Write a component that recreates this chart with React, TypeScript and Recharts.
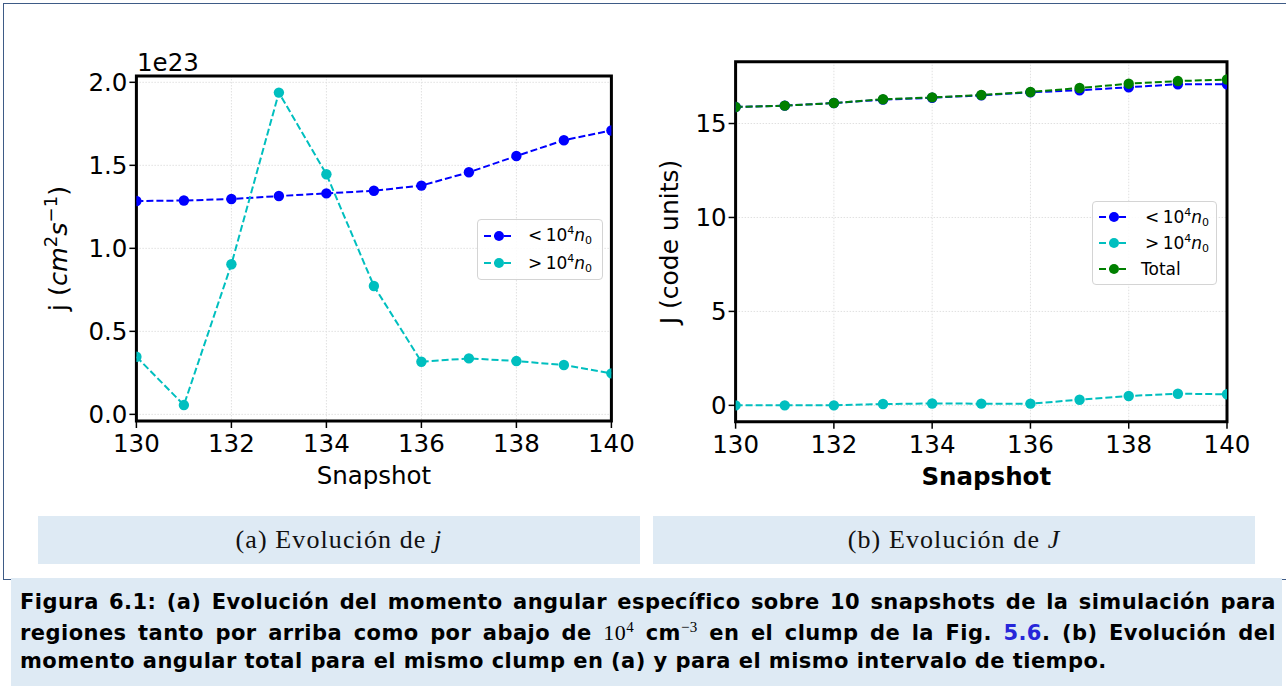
import React from 'react'
import {
  LineChart, Line, XAxis, YAxis, CartesianGrid, ReferenceArea, Legend,
} from 'recharts'

// Snapshot index (x axis, shared by both panels)
const snapshots = [130, 131, 132, 133, 134, 135, 136, 137, 138, 139, 140]
const xTicks = [130, 132, 134, 136, 138, 140]

// (a) specific angular momentum j, in units of 1e23 cm^2 s^-1
const jBelow = [1.285, 1.288, 1.297, 1.315, 1.331, 1.347, 1.378, 1.458, 1.556, 1.651, 1.71]
const jAbove = [0.347, 0.056, 0.904, 1.938, 1.446, 0.773, 0.317, 0.337, 0.321, 0.297, 0.247]
const jTicks = [0, 0.5, 1, 1.5, 2]

// (b) total angular momentum J, code units
const JBelow = [15.88, 15.95, 16.09, 16.27, 16.37, 16.5, 16.66, 16.77, 16.93, 17.09, 17.09]
const JAbove = [0.0, 0.0, 0.0, 0.07, 0.1, 0.09, 0.09, 0.3, 0.5, 0.62, 0.59]
const JTotal = [15.88, 15.95, 16.09, 16.29, 16.39, 16.52, 16.68, 16.89, 17.12, 17.26, 17.34]
const JTicks = [0, 5, 10, 15]

const BLUE = '#0000ff'
const CYAN = '#00bfbf'
const GREEN = '#008000'
const FRAME = '#3e5b86'
const PANEL_BG = '#deeaf4'
const MPL = '"DejaVu Sans", sans-serif'
const SERIF = '"Liberation Serif", serif'

const J_DOMAIN: [number, number] = [-0.04, 2.038]
const BIG_J_DOMAIN: [number, number] = [-0.87, 18.29]

const dataA = snapshots.map((s, i) => ({ snap: s, below: jBelow[i], above: jAbove[i] }))
const dataB = snapshots.map((s, i) => ({ snap: s, below: JBelow[i], above: JAbove[i], total: JTotal[i] }))

const tickStyle = { fill: '#000', fontSize: 24.5, fontFamily: MPL }
const tickLine = { stroke: '#000', strokeWidth: 1.5 }

const DensityLabel = ({ sign }: { sign: string }) => (
  <span>
    {sign}&thinsp;10<sup style={{ fontSize: 11, verticalAlign: 7 }}>4</sup>
    <i>n</i><sub style={{ fontSize: 11, verticalAlign: -3 }}>0</sub>
  </span>
)

const LegendBox = ({ items, rowH, textPad }: { items: { color: string; label: React.ReactNode }[]; rowH: number; textPad: number }) => (
  <div style={{
    border: '1px solid #d4d4d4', borderRadius: 4, background: 'rgba(255,255,255,0.85)',
    padding: '2px 6px', fontFamily: MPL, fontSize: 17, color: '#000', boxSizing: 'border-box',
  }}>
    {items.map((it, i) => (
      <div key={i} style={{ display: 'flex', alignItems: 'center', height: rowH }}>
        <svg width={30} height={12} style={{ flex: 'none' }}>
          <line x1={0} y1={6} x2={30} y2={6} stroke={it.color} strokeWidth={2} strokeDasharray="7 3" />
          <circle cx={15} cy={6} r={5} fill={it.color} />
        </svg>
        <span style={{ marginLeft: textPad, whiteSpace: 'nowrap' }}>{it.label}</span>
      </div>
    ))}
  </div>
)

const dotOf = (c: string) => ({ r: 5.2, fill: c, stroke: 'none', strokeDasharray: '' })

function PanelA() {
  return (
    <LineChart width={650} height={505} data={dataA}
      margin={{ top: 76, left: 76.4, right: 38.6, bottom: 14 }}>
      <CartesianGrid stroke="#e0e0e0" strokeDasharray="1.5 1.5" />
      <XAxis dataKey="snap" type="number" domain={[130, 140]} ticks={xTicks} allowDataOverflow
        height={70} axisLine={false} tick={tickStyle} tickLine={tickLine} tickSize={7} tickMargin={7}
        label={{ value: 'Snapshot', position: 'insideBottom', offset: 7, fill: '#000', fontSize: 24.5, fontFamily: MPL }} />
      <YAxis type="number" domain={J_DOMAIN} ticks={jTicks} allowDataOverflow width={60}
        axisLine={false} tick={tickStyle} tickLine={tickLine} tickSize={7} tickMargin={2}
        tickFormatter={(v: number) => v.toFixed(1)}
        label={() => (
          <g fontFamily={MPL} fill="#000">
            <text x={137} y={71} fontSize={24.5}>1e23</text>
            <text transform="translate(67,248.5) rotate(-90)" textAnchor="middle" fontSize={25.5}>
              <tspan>j (</tspan>
              <tspan fontStyle="italic">cm</tspan>
              <tspan fontSize={18} dy={-10}>2</tspan>
              <tspan fontStyle="italic" dy={10}>s</tspan>
              <tspan fontSize={18} dy={-10}>−1</tspan>
              <tspan dy={10}>)</tspan>
            </text>
          </g>
        )} />
      <ReferenceArea x1={130} x2={140} y1={J_DOMAIN[0]} y2={J_DOMAIN[1]} fill="none"
        stroke="#000" strokeWidth={3} ifOverflow="visible" />
      <Line dataKey="below" stroke={BLUE} strokeWidth={2} strokeDasharray="7 3" dot={dotOf(BLUE)} isAnimationActive={false} />
      <Line dataKey="above" stroke={CYAN} strokeWidth={2} strokeDasharray="7 3" dot={dotOf(CYAN)} isAnimationActive={false} />
      <Legend layout="horizontal" verticalAlign="middle"
        wrapperStyle={{ left: 477, top: 219, width: 126, height: 59 }}
        content={() => (
          <LegendBox rowH={27.5} textPad={14} items={[
            { color: BLUE, label: <DensityLabel sign="<" /> },
            { color: CYAN, label: <DensityLabel sign=">" /> },
          ]} />
        )} />
    </LineChart>
  )
}

function PanelB() {
  return (
    <LineChart width={636} height={505} data={dataB}
      margin={{ top: 61.7, left: 25.6, right: 59, bottom: 13.3 }}>
      <CartesianGrid stroke="#e0e0e0" strokeDasharray="1.5 1.5" />
      <XAxis dataKey="snap" type="number" domain={[130, 140]} ticks={xTicks} allowDataOverflow
        height={70} axisLine={false} tick={tickStyle} tickLine={tickLine} tickSize={7} tickMargin={7}
        label={{ value: 'Snapshot', position: 'insideBottom', offset: 7, fill: '#000', fontSize: 24.5, fontFamily: MPL, fontWeight: 'bold', dx: 5 }} />
      <YAxis type="number" domain={BIG_J_DOMAIN} ticks={JTicks} allowDataOverflow width={60}
        axisLine={false} tick={tickStyle} tickLine={tickLine} tickSize={7} tickMargin={2}
        label={() => (
          <text transform="translate(28,242) rotate(-90)" textAnchor="middle" fontSize={25}
            fontFamily={MPL} fill="#000">J (code units)</text>
        )} />
      <ReferenceArea x1={130} x2={140} y1={BIG_J_DOMAIN[0]} y2={BIG_J_DOMAIN[1]} fill="none"
        stroke="#000" strokeWidth={3} ifOverflow="visible" />
      <Line dataKey="below" stroke={BLUE} strokeWidth={2} strokeDasharray="7 3" dot={dotOf(BLUE)} isAnimationActive={false} />
      <Line dataKey="above" stroke={CYAN} strokeWidth={2} strokeDasharray="7 3" dot={dotOf(CYAN)} isAnimationActive={false} />
      <Line dataKey="total" stroke={GREEN} strokeWidth={2} strokeDasharray="7 3" dot={dotOf(GREEN)} isAnimationActive={false} />
      <Legend layout="horizontal" verticalAlign="middle"
        wrapperStyle={{ left: 442, top: 201, width: 125, height: 82 }}
        content={() => (
          <LegendBox rowH={26} textPad={16} items={[
            { color: BLUE, label: <DensityLabel sign="<" /> },
            { color: CYAN, label: <DensityLabel sign=">" /> },
            { color: GREEN, label: <span style={{ marginLeft: -4 }}>Total</span> },
          ]} />
        )} />
    </LineChart>
  )
}

const subcap: React.CSSProperties = {
  position: 'absolute', top: 516, width: 602, height: 48, background: PANEL_BG,
  display: 'flex', alignItems: 'center', justifyContent: 'center',
  fontFamily: SERIF, fontSize: 26, letterSpacing: 1.1, color: '#111',
}

const capLine: React.CSSProperties = {
  whiteSpace: 'nowrap', height: 29.5, lineHeight: '29.5px', overflow: 'visible',
}

const raised = (size: number, lift: number): React.CSSProperties => ({
  position: 'relative', top: -lift, fontSize: size, lineHeight: 0,
})

export default function App() {
  return (
    <div style={{ position: 'absolute', left: 0, top: 0, width: 1286, height: 686, background: '#fff', overflow: 'hidden' }}>
      <div style={{
        position: 'absolute', left: 2.5, top: 2.5, width: 1300, height: 575,
        borderTop: `1.5px solid ${FRAME}`, borderLeft: `1.5px solid ${FRAME}`, borderBottom: `1.5px solid ${FRAME}`,
      }} />
      <div style={{ position: 'absolute', left: 0, top: 0 }}><PanelA /></div>
      <div style={{ position: 'absolute', left: 650, top: 0 }}><PanelB /></div>

      <div style={{ ...subcap, left: 38 }}>(a) Evolución de&nbsp;<i>j</i></div>
      <div style={{ ...subcap, left: 653 }}>(b) Evolución de&nbsp;<i>J</i></div>

      <div style={{
        position: 'absolute', left: 11, top: 578, width: 1271, height: 108, background: PANEL_BG,
        padding: '10px 6px 0 9px', boxSizing: 'border-box',
        fontFamily: MPL, fontWeight: 'bold', fontSize: 21, letterSpacing: 0.45, color: '#000',
      }}>
        <div style={{ ...capLine, textAlign: 'justify', textAlignLast: 'justify' }}>
          Figura 6.1: (a) Evolución del momento angular específico sobre 10 snapshots de la simulación para
        </div>
        <div style={{ ...capLine, textAlign: 'justify', textAlignLast: 'justify' }}>
          regiones tanto por arriba como por abajo de <span style={{ fontFamily: SERIF, fontWeight: 'normal', fontSize: 22 }}>10<span style={raised(15, 8)}>4</span></span> cm<span style={{ ...raised(15, 8), fontFamily: SERIF, fontWeight: 'normal' }}>−3</span> en el clump de la Fig. <span style={{ color: '#2626d9' }}>5.6</span>. (b) Evolución del
        </div>
        <div style={capLine}>
          momento angular total para el mismo clump en (a) y para el mismo intervalo de tiempo.
        </div>
      </div>
    </div>
  )
}
